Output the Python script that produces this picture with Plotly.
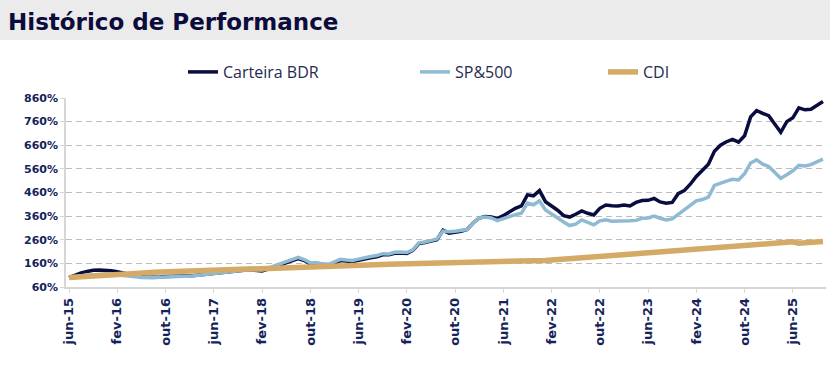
import plotly.graph_objects as go

# ---- data ----
tick_labels = ["jun-15", "fev-16", "out-16", "jun-17", "fev-18", "out-18", "jun-19", "fev-20",
               "out-20", "jun-21", "fev-22", "out-22", "jun-23", "fev-24", "out-24", "jun-25"]

carteira_bdr = [
    100, 112, 120, 126, 131, 132, 132, 129, 125, 120,
    115, 107, 103, 101, 100, 102, 104, 106, 108, 107,
    107, 110, 113, 116, 119, 121, 123, 125, 128, 131,
    133, 130, 128, 136, 145, 152, 160, 170, 180, 172,
    158, 160, 155, 152, 162, 172, 170, 167, 173, 180,
    184, 188, 196, 196, 203, 204, 202, 215, 244, 248,
    253, 260, 300, 288, 292, 296, 304, 331, 352, 358,
    356, 350, 362, 378, 393, 403, 450, 446, 468, 421,
    405, 385, 362, 356, 368, 382, 372, 365, 393, 407,
    404, 403, 407, 403, 418, 426, 427, 435, 420, 415,
    418, 455, 468, 495, 528, 555, 580, 635, 660, 675,
    685, 673, 700, 780, 807, 795, 785, 750, 715, 760,
    776, 818, 810, 812, 828, 845,
]

sp500 = [
    100, 105, 108, 110, 112, 114, 115, 114, 112, 110,
    107, 103, 100, 99, 99, 101, 103, 105, 106, 106,
    106, 109, 112, 115, 118, 121, 123, 126, 129, 132,
    134, 133, 132, 140, 149, 157, 165, 177, 185, 176,
    162, 164, 158, 156, 166, 177, 174, 172, 178, 185,
    189, 193, 201, 200, 207, 208, 206, 217, 247, 250,
    258, 263, 297, 294, 296, 300, 303, 331, 352, 356,
    352, 341, 350, 358, 366, 372, 415, 408, 424, 386,
    368, 352, 335, 320, 326, 344, 333, 323, 340, 344,
    338, 338, 340, 340, 342, 351, 352, 360, 351, 344,
    348, 368, 384, 405, 425, 430, 440, 490, 500, 508,
    516, 513, 540, 585, 598, 580, 570, 545, 520, 535,
    552, 575, 572, 578, 590, 601,
]

cdi = [
    100, 102, 104, 106, 108, 109.5, 111, 112.5, 114, 115.5,
    117, 118, 119.5, 120.5, 122, 123, 124.5, 126, 127, 128.5,
    129.5, 130.5, 131.5, 132.5, 133.5, 134.5, 135.5, 136.5, 137.5, 138.5,
    139.5, 140.5, 141, 142, 143, 143.5, 144.5, 145.5, 146, 146.5,
    147.5, 148, 149, 150, 150.5, 151, 152, 152.5, 153, 154,
    154.5, 155, 155.5, 156, 156.5, 157, 157.5, 158, 158, 158.5,
    158.5, 159, 159, 159.5, 159.5, 160, 160.5, 161, 161.5, 162,
    162.5, 163, 164, 165, 166, 167, 168, 169.5, 171, 172.5,
    174, 175.5, 177, 179, 181, 183, 185, 187, 189, 191,
    193, 195, 197, 199, 201, 203, 205, 207, 209, 211,
    213, 215, 217, 219, 221, 223, 225, 227, 229, 231,
    233, 235, 237, 239, 241, 243, 245, 246.5, 248, 249.5,
    251, 245, 247, 249, 251, 253,
]

months = list(range(len(carteira_bdr)))
tick_positions = months[::8][:len(tick_labels)]
y_ticks = [60, 160, 260, 360, 460, 560, 660, 760, 860]

# ---- layout geometry ----
W, H = 830, 377
ML, MR, MT, MB = 66, 4, 98, 90
PW, PH = W - ML - MR, H - MT - MB


def px_x(x):
    return (x - ML) / PW


def px_y(y):
    return (H - MB - y) / PH


NAVY = "#14235a"
fig = go.Figure()
fig.add_trace(go.Scatter(x=months, y=carteira_bdr, mode="lines", name="Carteira BDR",
                         line=dict(color="#0a0c3f", width=3.5), legend="legend"))
fig.add_trace(go.Scatter(x=months, y=sp500, mode="lines", name="SP&500",
                         line=dict(color="#8fbad3", width=3.5), legend="legend2"))
fig.add_trace(go.Scatter(x=months, y=cdi, mode="lines", name="CDI",
                         line=dict(color="#d4aa66", width=5.5), legend="legend3"))

leg_common = dict(orientation="h", yanchor="middle", xanchor="left", bgcolor="rgba(0,0,0,0)",
                  font=dict(family="Open Sans", size=16, color="#262b4f"))
fig.update_layout(
    width=W, height=H, autosize=False,
    margin=dict(l=ML, r=MR, t=MT, b=MB, pad=0),
    paper_bgcolor="white", plot_bgcolor="white",
    showlegend=True,
    legend=dict(x=px_x(183), y=px_y(72), **leg_common),
    legend2=dict(x=px_x(415), y=px_y(72), **leg_common),
    legend3=dict(x=px_x(603), y=px_y(72), **leg_common),
    xaxis=dict(range=[-0.5, len(months) - 0.5], tickmode="array", tickvals=tick_positions,
               ticktext=tick_labels, tickangle=-90, showgrid=False, zeroline=False,
               showline=True, linecolor="#d6d6d6", linewidth=1.5,
               ticks="outside", ticklen=4, tickcolor="#d6d6d6", automargin=False,
               tickfont=dict(family="DejaVu Sans", size=13, color=NAVY, weight="bold")),
    yaxis=dict(range=[60, 860], tickmode="array", tickvals=y_ticks,
               ticktext=[f"{v}%" for v in y_ticks], showgrid=True, gridcolor="#bdbdbd",
               griddash="6px,4px", gridwidth=1, zeroline=False,
               showline=True, linecolor="#d6d6d6", linewidth=1.5,
               ticks="outside", ticklen=4, tickcolor="#d6d6d6", automargin=False,
               tickfont=dict(family="DejaVu Sans", size=11, color=NAVY, weight="bold")),
    shapes=[dict(type="rect", xref="paper", yref="paper", x0=px_x(0), x1=px_x(W),
                 y0=px_y(40), y1=px_y(0), fillcolor="#ebebeb", line=dict(width=0), layer="below")],
    annotations=[dict(text="<b>Histórico de Performance</b>", xref="paper", yref="paper",
                      x=px_x(6), y=px_y(22), xanchor="left", yanchor="middle", showarrow=False,
                      font=dict(family="DejaVu Sans", size=23, color="#0c0c3c"))],
)

fig.write_html("out.html", config={"displayModeBar": False},
               post_script="document.body.style.margin='0';")
